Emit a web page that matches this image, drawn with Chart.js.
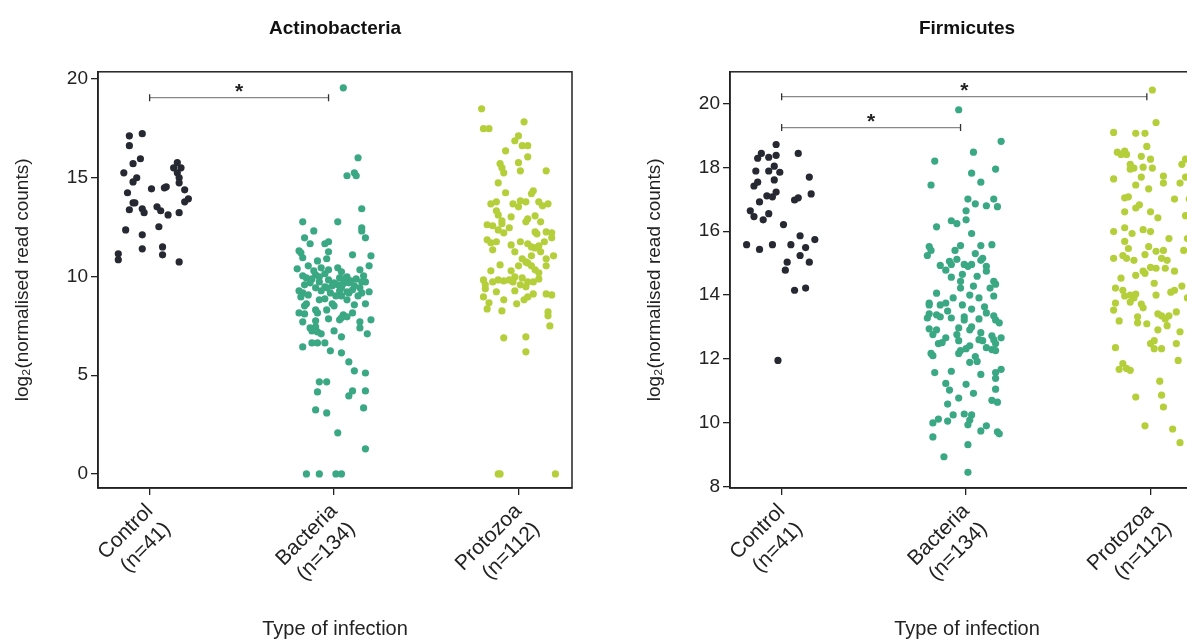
<!DOCTYPE html>
<html>
<head>
<meta charset="utf-8">
<script src="https://cdn.jsdelivr.net/npm/chart.js@4.4.1/dist/chart.umd.min.js"></script>
<style>
html, body { margin: 0; padding: 0; background: #fff; overflow: hidden; width: 1187px; height: 641px; }
canvas { position: absolute; top: 0; }
#actinoChart { left: 0; }
#firmiChart { left: 632px; }
</style>
</head>
<body>
<canvas id="actinoChart" width="600" height="641"></canvas>
<canvas id="firmiChart" width="600" height="641"></canvas>
<script>
// ================================================
// DATA  (each point = [jitter within strip, log2 value])
// ================================================
const categories = ['Control', 'Bacteria', 'Protozoa'];
const groupSizes = ['(n=41)', '(n=134)', '(n=112)'];
const groupColors = ['#262832', '#3aa882', '#b5cf3b'];

const actinoControl = [[-0.11,17.11],[-0.04,17.22],[-0.11,16.61],[-0.05,15.95],[-0.09,15.70],[-0.14,15.24],[0.15,15.75],[0.13,15.49],[0.17,15.49],[0.15,15.24],[0.16,14.99],[0.16,14.73],[-0.07,14.99],[-0.09,14.78],[0.01,14.43],[0.09,14.53],[0.08,14.48],[0.19,14.38],[-0.12,14.23],[0.21,13.92],[0.19,13.77],[-0.09,13.72],[-0.08,13.72],[-0.11,13.37],[-0.04,13.42],[-0.03,13.22],[0.04,13.52],[0.06,13.32],[0.10,13.11],[0.16,13.22],[-0.13,12.35],[-0.04,12.10],[0.05,12.51],[-0.04,11.39],[0.07,11.49],[0.07,11.09],[-0.17,11.14],[-0.17,10.84],[0.16,10.73]];

const actinoBacteria = [[0.05,19.54],[0.13,16.00],[0.07,15.09],[0.11,15.24],[0.12,15.09],[0.15,13.42],[-0.17,12.76],[0.02,12.76],[-0.11,12.30],[0.15,12.46],[0.15,12.30],[-0.16,11.95],[0.17,11.95],[-0.13,11.65],[-0.05,11.65],[-0.03,11.75],[-0.19,11.29],[-0.18,11.19],[-0.17,10.94],[-0.03,11.24],[-0.09,10.78],[-0.04,10.89],[0.10,11.09],[0.20,11.04],[0.19,10.53],[-0.20,10.38],[0.02,10.43],[0.04,10.23],[0.14,10.33],
  [-0.17,10.03],[-0.15,9.92],[-0.10,10.08],[-0.13,9.67],[-0.08,9.72],[-0.03,9.82],[0.00,9.67],[0.03,9.92],[0.05,9.87],[0.07,9.97],[0.09,9.77],[0.12,9.87],[0.15,9.72],[0.17,9.72],[-0.05,9.47],[-0.04,9.42],[-0.01,9.52],[0.02,9.57],[0.04,9.42],[0.07,9.22],[0.08,9.16],[0.10,9.32],[-0.19,9.27],[-0.17,9.16],[-0.14,9.06],[-0.18,8.96],[-0.07,9.27],[0.04,9.01],[0.15,9.16],[0.19,9.22],
  [-0.08,8.81],[-0.15,8.61],[-0.16,8.51],[-0.01,8.61],[0.00,8.51],[0.11,8.56],[0.17,8.61],[-0.19,8.15],[-0.16,8.10],[-0.10,8.30],[-0.09,8.15],[-0.04,8.30],[0.05,8.05],[0.07,7.95],[0.10,8.15],[-0.17,7.70],[-0.10,7.75],[-0.03,7.85],[0.03,7.80],[0.04,7.90],[0.14,7.70],[0.14,7.39],[0.20,7.80],[-0.13,7.39],[-0.12,7.24],[-0.10,7.44],[-0.09,7.19],[-0.07,7.09],[0.00,7.24],[0.18,7.09],[0.04,6.94],
  [-0.17,6.43],[-0.12,6.63],[-0.09,6.63],[-0.05,6.63],[-0.02,6.23],[0.04,6.13],[0.08,5.67],[0.11,5.22],[0.17,5.11],[-0.08,4.66],[-0.04,4.66],[-0.09,4.15],[0.10,4.20],[0.08,3.95],[0.17,4.20],[-0.10,3.24],[-0.04,3.09],[0.16,3.34],[0.02,2.08],[0.17,1.27],[-0.15,0],[-0.08,0],[0.01,0],[0.04,0],
  [-0.14,10.53],[-0.07,10.43],[-0.11,10.28],[-0.05,10.13],[0.05,9.62],[0.11,9.52],[0.14,9.42],[-0.02,9.16],[0.01,9.01],[-0.10,9.42],[0.08,9.67],[0.16,10.03],[-0.08,9.97],[-0.16,9.57],[0.03,9.27],[0.13,9.01],[-0.12,9.87],[-0.03,10.33],[0.07,8.81],[-0.05,8.86]];

const actinoProtozoa = [[-0.20,18.48],[0.03,17.82],[-0.19,17.47],[-0.16,17.47],[0.00,17.11],[-0.02,16.86],[0.02,16.61],[0.05,16.61],[-0.07,16.35],[0.05,16.05],[0.00,15.75],[-0.10,15.70],[-0.09,15.49],[-0.08,15.24],[0.01,15.34],[0.15,15.34],[-0.11,14.73],[-0.07,14.23],[0.08,14.33],[0.07,14.18],[-0.15,13.67],[-0.12,13.77],[-0.03,13.67],[0.00,13.52],[0.01,13.82],[0.04,13.77],[0.11,13.77],[0.13,13.57],[0.16,13.67],[-0.12,13.32],[-0.11,13.11],[-0.09,12.81],[-0.09,12.66],[-0.04,13.01],[0.05,12.91],[0.04,12.76],[0.09,13.06],[0.12,12.76],
  [-0.17,12.61],[-0.14,12.56],[-0.11,12.35],[-0.05,12.46],[-0.08,12.20],[0.09,12.25],[0.10,12.15],[0.15,12.25],[0.18,12.20],[0.18,11.95],[-0.17,11.85],[-0.15,11.70],[-0.12,11.75],[0.01,11.75],[0.05,11.65],[0.07,11.49],[0.09,11.44],[0.11,11.54],[0.14,11.75],[0.07,11.04],[0.02,10.89],[0.04,10.73],[0.15,10.89],[0.19,11.04],[0.05,10.68],[0.07,10.53],[0.15,10.53],[0.11,10.18],[0.00,10.53],[-0.15,10.28],[-0.04,10.28],
  [-0.19,9.82],[-0.18,9.57],[-0.18,9.37],[-0.14,9.72],[-0.11,9.82],[-0.08,9.77],[-0.05,9.82],[-0.03,9.72],[-0.02,9.97],[0.02,9.92],[0.05,9.72],[0.08,9.72],[0.11,9.87],[0.04,9.47],[-0.02,9.27],[-0.19,8.96],[-0.16,8.66],[-0.17,8.35],[-0.08,8.81],[-0.09,8.25],[-0.01,8.61],[0.03,8.81],[0.05,8.96],[0.08,9.11],[0.15,9.11],[0.18,9.06],[0.16,8.20],[0.16,8.00],[0.17,7.49],[-0.08,6.89],[0.04,6.94],[0.04,6.18],[-0.11,0],[-0.10,0],[0.20,0],
  [-0.14,11.34],[-0.04,11.59],[-0.02,11.24],[0.12,11.24],[-0.10,10.58],[0.09,10.33],[0.01,9.57],[-0.12,9.22]];

const firmiControl = [[-0.03,18.72],[-0.11,18.44],[-0.13,18.29],[-0.07,18.32],[-0.03,18.38],[0.09,18.44],[-0.04,18.04],[-0.14,17.89],[-0.07,17.89],[-0.01,17.85],[-0.04,17.61],[0.15,17.70],[-0.13,17.54],[-0.15,17.42],[-0.03,17.23],[-0.08,17.11],[-0.05,17.08],[0.16,17.17],[0.07,16.98],[0.09,17.05],[-0.12,16.92],[-0.17,16.64],[-0.15,16.46],[-0.10,16.36],[-0.07,16.55],[0.01,16.21],[0.10,15.86],[0.18,15.74],[-0.19,15.58],[-0.12,15.43],[-0.05,15.58],[0.05,15.58],[0.13,15.49],[0.10,15.24],[0.03,15.03],[0.02,14.78],[0.15,15.03],[0.07,14.15],[0.13,14.22],[-0.02,11.95]];

const firmiBacteria = [[-0.04,19.81],[0.19,18.82],[0.04,18.48],[-0.17,18.20],[0.03,17.82],[0.16,17.95],[0.08,17.54],[-0.19,17.45],[0.01,17.01],[0.05,16.86],[0.15,17.01],[0.11,16.80],[0.17,16.77],[0.00,16.64],[-0.08,16.33],[-0.05,16.24],[0.00,16.36],[-0.16,16.14],[0.03,15.93],[-0.20,15.52],[-0.19,15.40],[-0.21,15.24],[-0.03,15.55],[-0.06,15.40],[0.08,15.55],[0.14,15.58],[-0.14,14.93],[-0.09,15.06],[-0.08,14.96],[-0.05,15.12],[-0.01,14.96],[0.01,14.90],[0.03,14.96],[0.08,15.09],[0.09,15.15],[0.11,14.90],[0.11,14.75],[-0.08,14.56],[-0.03,14.43],[0.06,14.59],[0.04,14.28],[0.15,14.43],[0.16,14.34],[0.02,14.00],[0.15,13.97],
  [-0.20,13.75],[-0.20,13.69],[-0.14,13.69],[-0.11,13.75],[-0.10,13.50],[-0.02,13.69],[0.03,13.56],[0.10,13.63],[-0.20,13.41],[-0.16,13.38],[-0.14,13.32],[-0.01,13.32],[-0.01,13.22],[0.07,13.25],[0.15,13.35],[0.16,13.22],[0.18,13.13],[-0.20,12.94],[-0.16,12.91],[-0.18,12.76],[0.03,13.00],[-0.04,12.97],[-0.05,12.76],[0.08,12.82],[0.07,12.60],[0.09,12.57],[0.14,12.72],[0.15,12.60],[0.19,12.66],[0.16,12.48],[-0.15,12.48],[-0.13,12.51],[-0.04,12.57],[-0.03,12.26],[0.00,12.32],[0.02,12.41],[-0.04,12.17],[-0.19,12.17],[-0.18,12.10],[0.14,12.29],[0.16,12.26],[0.05,12.07],[0.06,11.92],[0.02,11.89],
  [-0.17,11.57],[-0.08,11.61],[0.08,11.51],[0.16,11.57],[0.19,11.67],[0.16,11.39],[-0.11,11.23],[0.00,11.20],[-0.09,11.02],[0.04,10.92],[0.16,11.05],[-0.04,10.77],[0.14,10.70],[0.17,10.64],[-0.10,10.58],[-0.01,10.27],[0.03,10.24],[0.02,10.08],[0.01,9.93],[-0.07,10.24],[-0.15,10.11],[-0.18,9.99],[-0.10,10.05],[0.11,9.90],[0.08,9.74],[0.17,9.71],[0.18,9.65],[-0.18,9.55],[0.01,9.31],[-0.12,8.93],[0.01,8.44],
  [-0.11,14.78],[-0.02,14.65],[0.13,14.22],[-0.16,14.06],[-0.07,13.91],[0.07,13.91],[0.11,13.44],[-0.08,13.28],[0.02,12.91],[-0.11,12.66],[0.11,12.35],[-0.21,13.28],[-0.03,14.22],[0.05,15.30]];

const firmiProtozoa = [[0.01,20.43],[0.03,19.41],[-0.20,19.10],[-0.08,19.07],[-0.03,19.07],[-0.02,18.66],[-0.18,18.48],[-0.16,18.41],[-0.14,18.51],[-0.13,18.41],[-0.05,18.35],[0.00,18.26],[0.19,18.26],[0.17,18.10],[-0.11,18.10],[-0.11,17.95],[-0.09,17.98],[-0.04,18.01],[0.01,17.98],[-0.05,17.70],[0.07,17.73],[0.07,17.51],[0.19,17.70],[0.16,17.51],[-0.08,17.45],[-0.14,17.05],[-0.12,17.08],[-0.06,16.83],[-0.08,16.73],[-0.14,16.61],[0.00,16.61],[0.04,16.42],[0.19,16.49],[-0.14,16.11],[-0.20,15.99],[-0.04,16.05],[0.00,15.99],[-0.14,15.68],[-0.12,15.46],[-0.15,15.24],[-0.13,15.15],[-0.09,15.09],[-0.01,15.52],[-0.03,15.27],[0.03,15.37],[0.07,15.40],[0.06,15.15],[0.09,15.09],[0.18,15.40],[-0.04,14.75],[0.00,14.87],[0.03,14.84],[0.08,14.84],[-0.08,14.62],[-0.03,14.68],[0.13,14.75],
  [-0.19,14.22],[-0.15,14.15],[-0.14,13.97],[-0.11,14.00],[-0.09,13.91],[-0.08,14.03],[-0.11,13.78],[-0.05,13.72],[0.03,14.00],[0.11,14.09],[0.13,14.15],[0.17,14.28],[-0.19,13.75],[-0.20,13.53],[-0.17,13.19],[-0.07,13.32],[-0.07,13.13],[-0.02,13.10],[0.04,13.41],[0.06,13.35],[0.08,13.25],[0.10,13.35],[0.14,13.47],[0.09,13.04],[0.04,12.91],[0.16,12.85],[0.14,12.48],[0.02,12.57],[0.00,12.48],[0.02,12.32],[0.06,12.32],[-0.19,12.35],[0.15,11.95],[-0.15,11.85],[-0.17,11.67],[-0.13,11.70],[-0.11,11.64],[0.05,11.30],[-0.08,10.80],[0.06,10.86],[0.07,10.49],[-0.03,9.90],[0.12,9.80],[0.16,9.37],
  [0.21,17.01],[0.20,15.77],[-0.20,17.64],[-0.01,17.33],[0.10,15.77],[-0.10,15.93],[0.13,17.01],[0.02,14.37],[-0.16,14.53],[-0.04,13.60],[0.20,13.91],[-0.20,15.15]];

// significance brackets: from/to on the category axis, y in data units
const actinoBrackets = [{ from: 0, to: 0.97, y: 19.04 }];
const firmiBrackets = [{ from: 0, to: 0.97, y: 19.25 }, { from: 0, to: 1.98, y: 20.22 }];

// ================================================
// HELPERS
// ================================================
Chart.defaults.font.family = '"Liberation Sans", Arial, sans-serif';
Chart.defaults.color = '#222';

function toPoints(list, cat) {
    return list.map(p => ({ x: cat + p[0], y: p[1] }));
}

function makeFramePlugin(brackets) {
    return {
        id: 'frame',
        afterDraw(chart) {
            const { ctx, chartArea: a } = chart;
            const xs = chart.scales.x, ys = chart.scales.y;
            ctx.save();
            ctx.strokeStyle = '#222';
            ctx.lineWidth = 1.5;
            ctx.strokeRect(a.left, a.top, a.right - a.left, a.bottom - a.top);

            brackets.forEach(b => {
                const x0 = xs.getPixelForValue(b.from);
                const x1 = xs.getPixelForValue(b.to);
                const yy = ys.getPixelForValue(b.y);
                ctx.strokeStyle = '#888';
                ctx.lineWidth = 1.3;
                ctx.beginPath();
                ctx.moveTo(x0, yy);
                ctx.lineTo(x1, yy);
                ctx.stroke();
                ctx.strokeStyle = '#333';
                ctx.beginPath();
                ctx.moveTo(x0, yy - 3.5); ctx.lineTo(x0, yy + 3.5);
                ctx.moveTo(x1, yy - 3.5); ctx.lineTo(x1, yy + 3.5);
                ctx.stroke();
                ctx.fillStyle = '#222';
                ctx.font = 'bold 21px "Liberation Sans", Arial, sans-serif';
                ctx.textAlign = 'center';
                ctx.textBaseline = 'alphabetic';
                ctx.fillText('*', (x0 + x1) / 2, yy);
            });
            ctx.restore();
        }
    };
}

function createStripChart(canvasId, title, groups, yMin, yMax, yStep, brackets) {
    const datasets = groups.map((g, i) => ({
        label: categories[i],
        data: toPoints(g, i),
        backgroundColor: groupColors[i],
        borderWidth: 0,
        pointRadius: 3.6,
        pointHoverRadius: 3.6
    }));

    return new Chart(document.getElementById(canvasId), {
        type: 'scatter',
        data: { datasets },
        plugins: [makeFramePlugin(brackets)],
        options: {
            responsive: false,
            animation: false,
            devicePixelRatio: 1,
            events: [],
            layout: { padding: { left: 0, right: 28, top: 0, bottom: 0 } },
            plugins: {
                legend: { display: false },
                tooltip: { enabled: false },
                title: {
                    display: true,
                    text: title,
                    fullSize: false,
                    color: '#111',
                    font: { size: 19, weight: 'bold' },
                    padding: { top: 17, bottom: 32 }
                }
            },
            scales: {
                x: {
                    type: 'linear',
                    min: -0.28,
                    max: 2.29,
                    afterBuildTicks: s => { s.ticks = [{ value: 0 }, { value: 1 }, { value: 2 }]; },
                    afterFit: s => { s.height = 153; },
                    ticks: {
                        minRotation: 45,
                        maxRotation: 45,
                        padding: 4,
                        font: { size: 21 },
                        color: '#222',
                        callback: v => [categories[v], groupSizes[v]]
                    },
                    grid: { drawOnChartArea: false, drawTicks: true, tickLength: 7, color: '#222', lineWidth: 1.3 },
                    border: { display: true, color: '#222', width: 1.5 },
                    title: { display: true, text: 'Type of infection', font: { size: 20 }, color: '#222', padding: { top: 0, bottom: 0 } }
                },
                y: {
                    min: yMin,
                    max: yMax,
                    afterFit: s => { s.width = 98; },
                    ticks: { stepSize: yStep, includeBounds: false, padding: 3, font: { size: 19 }, color: '#222' },
                    grid: { drawOnChartArea: false, drawTicks: true, tickLength: 7, color: '#222', lineWidth: 1.3 },
                    border: { display: true, color: '#222', width: 1.5 },
                    title: { display: true, text: 'log₂(normalised read counts)', font: { size: 19 }, color: '#222', padding: { top: 11, bottom: 0 } }
                }
            }
        }
    });
}

// ================================================
// PANELS
// ================================================
createStripChart('actinoChart', 'Actinobacteria',
    [actinoControl, actinoBacteria, actinoProtozoa], -0.71, 20.35, 5, actinoBrackets);
createStripChart('firmiChart', 'Firmicutes',
    [firmiControl, firmiBacteria, firmiProtozoa], 7.95, 21.0, 2, firmiBrackets);
</script>
</body>
</html>
